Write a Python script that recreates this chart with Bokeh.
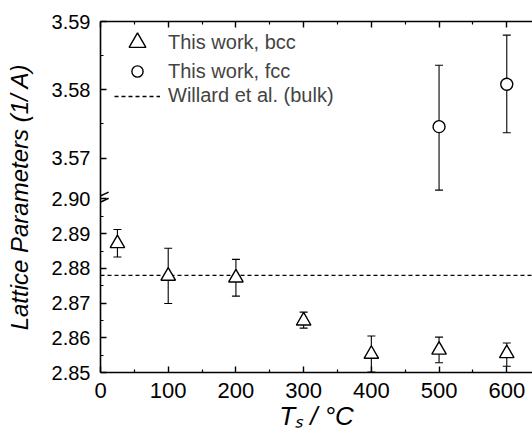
from bokeh.plotting import figure
from bokeh.models import (Range1d, FixedTicker, CustomJSTickFormatter, Whisker,
                          ColumnDataSource, Legend, LegendItem, TeeHead, LinearAxis)
from bokeh.embed import file_html
from bokeh.resources import INLINE

# ---------------- data ----------------
bcc_T = [25, 100, 200, 300, 400, 500, 600]
bcc_a = [2.8872, 2.8778, 2.8773, 2.8649, 2.8553, 2.8565, 2.8555]
bcc_hi = [2.8912, 2.8858, 2.8826, 2.8674, 2.8605, 2.8602, 2.8585]
bcc_lo = [2.8833, 2.8699, 2.8720, 2.8628, 2.8501, 2.8528, 2.8518]

fcc_T = [500, 600]
fcc_a = [3.5746, 3.5808]
fcc_hi = [3.5836, 3.5880]
fcc_lo = [3.5653, 3.5737]

willard_a = 2.878

x_ticks = [0, 100, 200, 300, 400, 500, 600]
x_minor = [50, 150, 250, 350, 450, 550, 650]
low_ticks = [2.85, 2.86, 2.87, 2.88, 2.89, 2.90]
low_minor = [2.855, 2.865, 2.875, 2.885, 2.895]
up_ticks = [3.57, 3.58, 3.59]
up_minor = [3.575, 3.585]

labels = ["This work, bcc", "This work, fcc", "Willard et al. (bulk)"]
y_title = "Lattice Parameters (1/ A)"
x_title = "T\u209b / \u00b0C"

# ---------------- broken axis geometry ----------------
X_START, X_END = 0, 638
LOW_A, LOW_B = 2.85, 2.90          # lower segment shown
UP_A, UP_B = 3.564, 3.59           # upper segment shown
FRAC = 174 / 352                   # share of frame height for lower segment
LO_START, LO_END = LOW_A, LOW_A + (LOW_B - LOW_A) / FRAC
UP_START, UP_END = UP_B - (UP_B - UP_A) / (1 - FRAC), UP_B
K = (LO_END - LO_START) / (UP_END - UP_START)

# break-mark style (two short slanted strokes across the axis)
MARK_DX, MARK_DY, MARK_GAP = 12, 0.0011, 0.0009


def up_to_low(v):
    return LO_START + (v - UP_START) * K


FONT = "Liberation Sans"

p = figure(width=532, height=433, x_range=Range1d(X_START, X_END),
           y_range=Range1d(LO_START, LO_END), output_backend="svg",
           toolbar_location=None, min_border_left=100, min_border_top=21,
           min_border_right=0, min_border_bottom=60)
p.extra_y_ranges = {"up": Range1d(UP_START, UP_END)}
p.outline_line_color = None
p.grid.visible = False
p.background_fill_color = "white"

# ---------------- axes ----------------
def style_axis(ax):
    ax.axis_line_width = 1.6
    ax.axis_line_color = "black"
    ax.major_tick_in = 6
    ax.major_tick_out = 0
    ax.minor_tick_in = 3
    ax.minor_tick_out = 0
    ax.major_tick_line_width = 1.4
    ax.minor_tick_line_width = 1.2
    ax.major_tick_line_color = "black"
    ax.minor_tick_line_color = "black"
    ax.major_label_text_font = FONT
    ax.major_label_text_color = "black"

xa = p.xaxis[0]
style_axis(xa)
xa.ticker = FixedTicker(ticks=x_ticks, minor_ticks=x_minor)
xa.major_label_text_font_size = "22px"
xa.major_label_standoff = 10
xa.axis_label = x_title
xa.axis_label_text_font = FONT
xa.axis_label_text_font_size = "26px"
xa.axis_label_text_font_style = "italic"
xa.axis_label_text_color = "black"
xa.axis_label_standoff = 0

top = LinearAxis(ticker=FixedTicker(ticks=x_ticks, minor_ticks=x_minor),
                 formatter=CustomJSTickFormatter(code="return '';"))
style_axis(top)
top.major_label_standoff = 0
p.add_layout(top, "above")

ya = p.yaxis[0]
style_axis(ya)
ya.ticker = FixedTicker(ticks=low_ticks + [up_to_low(v) for v in up_ticks],
                        minor_ticks=low_minor + [up_to_low(v) for v in up_minor])
ya.formatter = CustomJSTickFormatter(
    args=dict(brk=LOW_B, lo0=LO_START, up0=UP_START, k=K),
    code="""
    const v = tick > brk + 1e-6 ? up0 + (tick - lo0) / k : tick;
    return v.toFixed(2);
    """)
ya.major_label_text_font_size = "20px"
ya.major_label_standoff = 10
ya.axis_label = y_title
ya.axis_label_text_font = FONT
ya.axis_label_text_font_size = "24px"
ya.axis_label_text_font_style = "italic"
ya.axis_label_text_color = "black"
ya.axis_label_standoff = 16

# axis-break mark (the part inside the frame)
mark_y = [LOW_B - MARK_GAP, LOW_B + MARK_GAP]
p.segment(x0=[X_START - MARK_DX] * 2, x1=[X_START + MARK_DX] * 2,
          y0=[y - MARK_DY for y in mark_y], y1=[y + MARK_DY for y in mark_y],
          line_color="black", line_width=1.5)

# ---------------- data glyphs ----------------
bcc_src = ColumnDataSource(dict(T=bcc_T, a=bcc_a, hi=bcc_hi, lo=bcc_lo))
fcc_src = ColumnDataSource(dict(T=fcc_T, a=fcc_a, hi=fcc_hi, lo=fcc_lo))

def heads():
    return dict(upper_head=TeeHead(size=8, line_width=1.1, line_color="black"),
                lower_head=TeeHead(size=8, line_width=1.1, line_color="black"))

p.add_layout(Whisker(source=bcc_src, base="T", upper="hi", lower="lo",
                     line_color="black", line_width=1.1, **heads()))
p.add_layout(Whisker(source=fcc_src, base="T", upper="hi", lower="lo",
                     y_range_name="up", line_color="black", line_width=1.1,
                     **heads()))

wl = p.line(x=[X_START, X_END], y=[willard_a, willard_a], line_color="black",
            line_width=1.3, line_dash="4 3")

tri = p.scatter("T", "a", source=bcc_src, marker="triangle", size=14.5,
                fill_color="white", line_color="black", line_width=1.4)
cir = p.scatter("T", "a", source=fcc_src, marker="circle", size=12,
                y_range_name="up", fill_color="white", line_color="black",
                line_width=1.4)

# one legend box per entry so that each key can have its own size
common = dict(margin=0, padding=0, glyph_width=46, label_standoff=8,
              label_text_font=FONT, label_text_font_size="20px",
              border_line_color=None, background_fill_alpha=0)
p.add_layout(Legend(items=[LegendItem(label=labels[0], renderers=[tri])],
                    location=(14, 309), glyph_height=42, **common))
p.add_layout(Legend(items=[LegendItem(label=labels[1], renderers=[cir])],
                    location=(14, 287), glyph_height=28, **common))
p.add_layout(Legend(items=[LegendItem(label=labels[2], renderers=[wl])],
                    location=(14, 265), glyph_height=22, **common))

open("out.html", "w").write(file_html(p, INLINE))
